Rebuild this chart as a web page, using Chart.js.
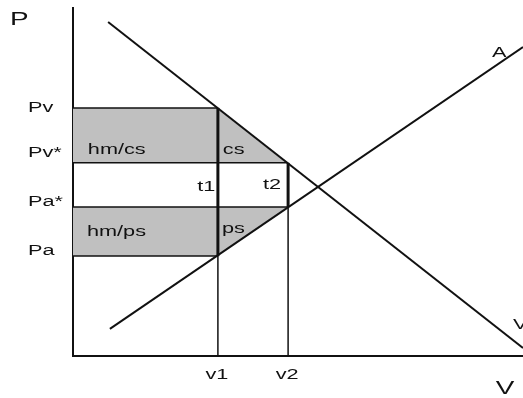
<!DOCTYPE html>
<html>
<head>
<meta charset="utf-8">
<script src="https://cdn.jsdelivr.net/npm/chart.js@4"></script>
<style>
  html, body { margin: 0; padding: 0; background: #fff; }
  canvas { display: block; }
</style>
</head>
<body>
<canvas id="chart" width="523" height="398"></canvas>
<script>
// quantities on the V axis
const quantityValues = [3.22, 4.78];
const quantityLabels = ['v1', 'v2'];

// price levels on the P axis
const priceValues = [7.13, 5.55, 4.28, 2.87];
const priceLabels = ['Pv', 'Pv*', 'Pa*', 'Pa'];

// demand (V) and supply (A) lines, end points
const demandX = [0.78, 10];
const demandY = [9.6, 0.23];
const supplyX = [0.82, 10];
const supplyY = [0.78, 8.88];

// labels written inside the diagram (data coordinates)
const areaText = ['hm/cs', 'cs', 't1', 't2', 'hm/ps', 'ps'];
const areaX = [0.33, 3.33, 2.76, 4.22, 0.31, 3.31];
const areaY = [5.92, 5.92, 4.86, 4.91, 3.56, 3.65];

const lineText = ['A', 'V'];
const lineX = [9.31, 9.78];
const lineY = [8.7, 0.89];

const [v1, v2] = quantityValues;
const [pv, pvStar, paStar, pa] = priceValues;

const grey = '#c0c0c0';
const ink = '#111';

function seg(x1, y1, x2, y2, width) {
    return {
        data: [{ x: x1, y: y1 }, { x: x2, y: y2 }],
        borderColor: ink,
        borderWidth: width,
        pointRadius: 0,
        fill: false,
        order: 1
    };
}

const datasets = [
    // shaded areas
    {
        data: [{ x: 0, y: pv }, { x: v1, y: pv }, { x: v2, y: pvStar }],
        borderWidth: 0,
        pointRadius: 0,
        backgroundColor: grey,
        fill: { value: pvStar },
        order: 10
    },
    {
        data: [{ x: 0, y: pa }, { x: v1, y: pa }, { x: v2, y: paStar }],
        borderWidth: 0,
        pointRadius: 0,
        backgroundColor: grey,
        fill: { value: paStar },
        order: 10
    },
    // price levels
    seg(0, pv, v1, pv, 1.5),
    seg(0, pvStar, v2, pvStar, 1.5),
    seg(0, paStar, v2, paStar, 1.5),
    seg(0, pa, v1, pa, 1.5),
    // quantity drop lines
    seg(v1, 0, v1, pa, 1.5),
    seg(v2, 0, v2, paStar, 1.5),
    seg(v1, pa, v1, pv, 3),
    seg(v2, paStar, v2, pvStar, 3),
    // demand and supply
    {
        data: demandX.map((x, i) => ({ x: x, y: demandY[i] })),
        borderColor: ink, borderWidth: 2, pointRadius: 0, fill: false, order: 0
    },
    {
        data: supplyX.map((x, i) => ({ x: x, y: supplyY[i] })),
        borderColor: ink, borderWidth: 2, pointRadius: 0, fill: false, order: 0
    }
];

function wideText(ctx, text, x, y, size, align) {
    ctx.save();
    ctx.font = size + 'px "Liberation Sans", Arial, sans-serif';
    ctx.fillStyle = ink;
    ctx.textBaseline = 'middle';
    ctx.textAlign = align || 'left';
    ctx.translate(x, y);
    ctx.scale(1.55, 1);
    ctx.fillText(text, 0, 0);
    ctx.restore();
}

const labelPlugin = {
    id: 'labels',
    afterDraw(chart) {
        const ctx = chart.ctx;
        const xs = chart.scales.x;
        const ys = chart.scales.y;
        const area = chart.chartArea;

        // axis names
        wideText(ctx, 'P', area.left - 63, area.top + 12, 18);
        wideText(ctx, 'V', area.right - 18, area.bottom + 33, 18, 'center');

        // price tick labels
        const lift = [0, 10, 5, 5];
        priceLabels.forEach((label, i) => {
            wideText(ctx, label, area.left - 45, ys.getPixelForValue(priceValues[i]) - lift[i], 14);
        });

        // quantity tick labels
        quantityLabels.forEach((label, i) => {
            wideText(ctx, label, xs.getPixelForValue(quantityValues[i]) - 1, area.bottom + 19, 14, 'center');
        });

        areaText.forEach((label, i) => {
            wideText(ctx, label, xs.getPixelForValue(areaX[i]), ys.getPixelForValue(areaY[i]), 14);
        });

        lineText.forEach((label, i) => {
            wideText(ctx, label, xs.getPixelForValue(lineX[i]), ys.getPixelForValue(lineY[i]), 14);
        });
    }
};

new Chart(document.getElementById('chart'), {
    type: 'line',
    data: { datasets: datasets },
    options: {
        responsive: false,
        animation: false,
        events: [],
        layout: { padding: { left: 65, top: 8, right: 0, bottom: 34 } },
        plugins: {
            legend: { display: false },
            tooltip: { enabled: false }
        },
        scales: {
            x: {
                type: 'linear',
                min: 0,
                max: 10,
                grid: { display: false },
                ticks: { display: false },
                border: { display: true, color: ink, width: 2 }
            },
            y: {
                type: 'linear',
                min: 0,
                max: 10,
                grid: { display: false },
                ticks: { display: false },
                border: { display: true, color: ink, width: 2 }
            }
        }
    },
    plugins: [labelPlugin]
});
</script>
</body>
</html>
